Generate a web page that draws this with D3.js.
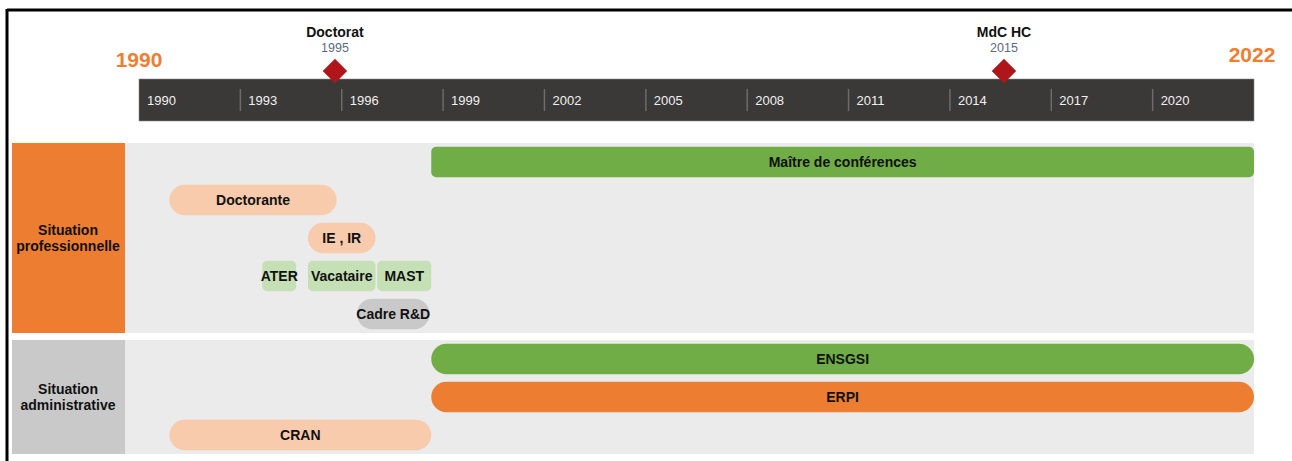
<!DOCTYPE html>
<html>
<head>
<meta charset="utf-8">
<script src="https://cdn.jsdelivr.net/npm/d3@7"></script>
<style>
  body { margin: 0; background: #fff; }
  text { font-family: "Liberation Sans", Arial, sans-serif; }
</style>
</head>
<body>
<div id="chart"></div>
<script>
// timeline data
const year_start = 1990;
const year_end = 2023;
const tick_years = [1990, 1993, 1996, 1999, 2002, 2005, 2008, 2011, 2014, 2017, 2020];
const end_labels = ["1990", "2022"];

const milestone_names = ["Doctorat", "MdC HC"];
const milestone_labels = ["1995", "2015"];
const milestone_dates = [1995.8, 2015.6];

const section_names = [["Situation", "professionnelle"], ["Situation", "administrative"]];
const section_lanes = [5, 3];

const bar_names = ["Maître de conférences", "Doctorante", "IE , IR", "ATER", "Vacataire", "MAST", "Cadre R&D",
                   "ENSGSI", "ERPI", "CRAN"];
const bar_starts = [1998.65, 1990.9, 1995.0, 1993.65, 1995.0, 1997.05, 1996.45, 1998.65, 1998.65, 1990.9];
const bar_ends   = [2023, 1995.85, 1997.0, 1994.65, 1997.0, 1998.65, 1998.6, 2023, 2023, 1998.65];
const bar_sections = [0, 0, 0, 0, 0, 0, 0, 1, 1, 1];
const bar_lanes    = [0, 1, 2, 3, 3, 3, 4, 0, 1, 2];
const bar_kinds    = ["poste", "these", "these", "vacation", "vacation", "vacation", "cadre", "etab", "labo", "these"];

// styles per kind
const kind_fill = { poste: "#70ad47", these: "#f8cbad", vacation: "#c5e0b4", cadre: "#c9c9c9", etab: "#70ad47", labo: "#ed7d31" };
const kind_pill = { poste: false, these: true, vacation: false, cadre: true, etab: true, labo: true };

const W = 1292, H = 461;
const svg = d3.select("#chart").append("svg").attr("width", W).attr("height", H);

const x = d3.scaleLinear().domain([year_start, year_end]).range([139, 1254]);

// frame
svg.append("line").attr("x1", 7).attr("x2", W).attr("y1", 10).attr("y2", 10).attr("stroke", "#000").attr("stroke-width", 3);
svg.append("line").attr("x1", 7).attr("x2", 7).attr("y1", 9).attr("y2", H).attr("stroke", "#000").attr("stroke-width", 3);

// dark time bar
svg.append("rect").attr("x", x(year_start)).attr("y", 79).attr("width", x(year_end) - x(year_start)).attr("height", 42)
  .attr("fill", "#3b3937").attr("stroke", "#8a8a8a").attr("stroke-width", 0.6);

const ticks = svg.append("g").selectAll("g").data(tick_years).join("g")
  .attr("transform", d => `translate(${x(d)},0)`);
ticks.filter(d => d !== year_start).append("line")
  .attr("y1", 89).attr("y2", 111).attr("stroke", "#6e6c6a").attr("stroke-width", 1.5);
ticks.append("text").attr("x", 8).attr("y", 105).attr("fill", "#f0f0f0")
  .attr("font-size", 13).text(d => d);

// end years
svg.append("text").attr("x", x(year_start)).attr("y", 67).attr("text-anchor", "middle")
  .attr("fill", "#ee7e32").attr("font-size", 21).attr("font-weight", "bold").text(end_labels[0]);
svg.append("text").attr("x", 1252).attr("y", 62).attr("text-anchor", "middle")
  .attr("fill", "#ee7e32").attr("font-size", 21).attr("font-weight", "bold").text(end_labels[1]);

// milestones
const ms = svg.append("g").selectAll("g").data(milestone_names).join("g")
  .attr("transform", (d, i) => `translate(${x(milestone_dates[i])},0)`);
ms.append("text").attr("y", 37).attr("text-anchor", "middle").attr("font-size", 14)
  .attr("font-weight", "bold").attr("fill", "#111").text(d => d);
ms.append("text").attr("y", 52).attr("text-anchor", "middle").attr("font-size", 12.5)
  .attr("fill", "#5b6b82").text((d, i) => milestone_labels[i]);
ms.append("path").attr("d", d3.symbol(d3.symbolSquare, 300)())
  .attr("transform", "translate(0,71) rotate(45)").attr("fill", "#b0151a");

// sections
const sec_y = [143, 340];
const sec_fill = ["#ed7d31", "#c9c9c9"];
const lane = section_lanes.map((n, i) =>
  d3.scaleBand().domain(d3.range(n)).range([sec_y[i], sec_y[i] + n * 38]).paddingInner(0.2).paddingOuter(0.1));

section_names.forEach((lines, i) => {
  const y0 = sec_y[i], h = section_lanes[i] * 38;
  svg.append("rect").attr("x", 12).attr("y", y0).attr("width", x(year_end) - 12).attr("height", h).attr("fill", "#ebebeb");
  svg.append("rect").attr("x", 12).attr("y", y0).attr("width", 113).attr("height", h).attr("fill", sec_fill[i]);
  const t = svg.append("text").attr("x", 68).attr("y", y0 + h / 2 - 3).attr("text-anchor", "middle")
    .attr("font-size", 14).attr("font-weight", "bold").attr("fill", "#111");
  lines.forEach((l, j) => t.append("tspan").attr("x", 68).attr("dy", j === 0 ? 0 : 16).text(l));
});

// bars
const bars = svg.append("g").selectAll("g").data(bar_names).join("g");
bars.append("rect")
  .attr("x", (d, i) => x(bar_starts[i]))
  .attr("y", (d, i) => lane[bar_sections[i]](bar_lanes[i]))
  .attr("width", (d, i) => x(bar_ends[i]) - x(bar_starts[i]))
  .attr("height", (d, i) => lane[bar_sections[i]].bandwidth())
  .attr("rx", (d, i) => kind_pill[bar_kinds[i]] ? lane[bar_sections[i]].bandwidth() / 2 : 5)
  .attr("fill", (d, i) => kind_fill[bar_kinds[i]]);
bars.append("text")
  .attr("x", (d, i) => (x(bar_starts[i]) + x(bar_ends[i])) / 2)
  .attr("y", (d, i) => lane[bar_sections[i]](bar_lanes[i]) + lane[bar_sections[i]].bandwidth() / 2 + 5)
  .attr("text-anchor", "middle").attr("font-size", 14).attr("font-weight", "bold").attr("fill", "#111")
  .text(d => d);
</script>
</body>
</html>
